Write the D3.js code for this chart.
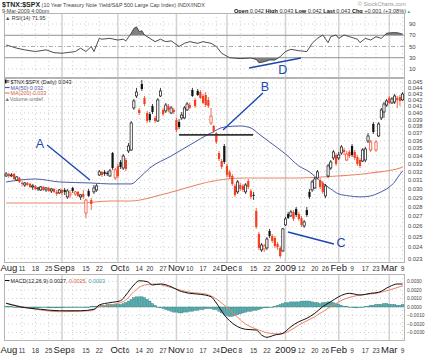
<!DOCTYPE html>
<html>
<head>
<meta charset="utf-8">
<script src="https://cdn.jsdelivr.net/npm/d3@7"></script>
<style>
    body { margin: 0; background: #fff; }
    svg text { font-family: "Liberation Sans", Arial, sans-serif; }
</style>
</head>
<body>
<div id="chart"></div>
<script>

/* * * * * * * * * * * * * *
*          data            *
* * * * * * * * * * * * * */

// x axis: trading-day index (0 = 1 Aug 2008, 149 = 9 Mar 2009)
const tickDays   = [0, 6, 11, 16, 21, 25, 30, 35, 42, 45, 50, 54, 59, 64, 69, 74, 79, 83, 88, 93, 98, 105, 111, 116, 120, 125, 130, 135, 139, 144, 149];
const tickLabels = ["Aug", "11", "18", "25", "Sep", "8", "15", "22", "Oct", "6", "14", "20", "27", "Nov", "10", "17", "24", "Dec", "8", "15", "22", "2009", "12", "20", "26", "Feb", "9", "17", "23", "Mar", "9"];
const monthDays  = [21, 42, 64, 83, 105, 125, 144];

// daily candles $TNX:$SPX
const open = [
    0.03148,0.03172,0.03148,0.03172,0.03100,0.03124,0.03065,0.03042,0.03065,0.03054,
    0.03019,0.03031,0.02996,0.02985,0.03019,0.02985,0.03008,0.02974,0.02996,0.02963,
    0.02951,0.02985,0.02985,0.02907,0.02929,0.03008,0.02940,0.02963,0.02907,0.02940,
    0.02735,0.02974,0.02873,0.02963,0.02985,0.03160,0.03197,0.03197,0.03184,0.03148,
    0.03435,0.03124,0.03270,0.03320,0.03245,0.03345,0.03462,0.03475,0.04077,0.04267,
    0.04046,0.04466,0.04235,0.04000,0.03984,0.04108,0.03925,0.03880,0.04267,0.04046,
    0.04031,0.04108,0.04000,0.04046,0.03895,0.03865,0.03925,0.03925,0.04046,0.04123,
    0.04365,0.04203,0.04349,0.04332,0.04267,0.04283,0.04203,0.03851,0.03807,0.03707,
    0.03435,0.03332,0.03528,0.03270,0.03197,0.03148,0.03031,0.02963,0.03042,0.03031,
    0.02963,0.03088,0.02974,0.02929,0.02756,0.02525,0.02376,0.02385,0.02394,0.02554,
    0.02506,0.02487,0.02430,0.02394,0.02367,0.02613,0.02724,0.02704,0.02745,0.02777,
    0.02724,0.02683,0.02603,0.02766,0.02963,0.02985,0.03008,0.03124,0.03100,0.03065,
    0.02918,0.03148,0.03245,0.03371,0.03409,0.03371,0.03435,0.03475,0.03345,0.03449,
    0.03528,0.03449,0.03383,0.03345,0.03332,0.03345,0.03595,0.03475,0.03836,0.03475,
    0.03665,0.03925,0.04015,0.04123,0.04235,0.04155,0.04171,0.04235,0.04251,0.04203
];
const high = [
    0.03197,0.03184,0.03184,0.03184,0.03148,0.03136,0.03088,0.03077,0.03077,0.03065,
    0.03054,0.03042,0.03019,0.03031,0.03031,0.03019,0.03019,0.03008,0.03008,0.02985,
    0.02996,0.02996,0.03008,0.02996,0.02985,0.03019,0.02974,0.02974,0.02940,0.02985,
    0.02884,0.02996,0.02895,0.03042,0.03054,0.03221,0.03209,0.03221,0.03209,0.03233,
    0.03449,0.03245,0.03295,0.03345,0.03422,0.03371,0.03568,0.03880,0.04219,0.04399,
    0.04077,0.04534,0.04267,0.04031,0.04015,0.04139,0.03954,0.04235,0.04399,0.04077,
    0.04155,0.04139,0.04108,0.04077,0.03925,0.03910,0.04015,0.04108,0.04171,0.04155,
    0.04399,0.04235,0.04382,0.04365,0.04299,0.04332,0.04251,0.04077,0.03821,0.03721,
    0.03462,0.03358,0.03555,0.03295,0.03221,0.03172,0.03054,0.03100,0.03065,0.03054,
    0.03065,0.03112,0.02996,0.02963,0.02787,0.02544,0.02440,0.02430,0.02496,0.02574,
    0.02525,0.02506,0.02449,0.02412,0.02584,0.02694,0.02745,0.02766,0.02766,0.02798,
    0.02745,0.02704,0.02663,0.02798,0.02996,0.03100,0.03136,0.03221,0.03124,0.03088,
    0.03054,0.03295,0.03345,0.03475,0.03435,0.03449,0.03541,0.03501,0.03462,0.03475,
    0.03555,0.03475,0.03409,0.03371,0.03501,0.03515,0.03707,0.03609,0.03865,0.03609,
    0.03865,0.04077,0.04171,0.04219,0.04267,0.04251,0.04299,0.04267,0.04283,0.04332
];
const low = [
    0.03136,0.03124,0.03136,0.03100,0.03088,0.03065,0.03031,0.03019,0.03031,0.03008,
    0.02985,0.02985,0.02974,0.02974,0.02974,0.02963,0.02963,0.02951,0.02951,0.02918,
    0.02940,0.02929,0.02929,0.02884,0.02895,0.02951,0.02918,0.02907,0.02873,0.02884,
    0.02683,0.02907,0.02766,0.02940,0.02963,0.03148,0.03136,0.03148,0.03148,0.03136,
    0.03221,0.03100,0.03124,0.03233,0.03221,0.03209,0.03435,0.03462,0.04046,0.04235,
    0.03969,0.04349,0.04108,0.03851,0.03865,0.03984,0.03851,0.03865,0.04251,0.03954,
    0.04000,0.04015,0.03984,0.03984,0.03721,0.03763,0.03895,0.03910,0.04031,0.04061,
    0.04251,0.04077,0.04267,0.04219,0.04139,0.04092,0.04077,0.03821,0.03707,0.03555,
    0.03332,0.03233,0.03295,0.03136,0.03112,0.03031,0.02907,0.02940,0.02974,0.02963,
    0.02940,0.02996,0.02884,0.02873,0.02574,0.02376,0.02358,0.02358,0.02376,0.02487,
    0.02440,0.02394,0.02376,0.02305,0.02358,0.02603,0.02673,0.02694,0.02653,0.02694,
    0.02653,0.02593,0.02584,0.02694,0.02884,0.02963,0.02996,0.03112,0.02996,0.02940,
    0.02895,0.03124,0.03221,0.03345,0.03270,0.03345,0.03409,0.03409,0.03332,0.03371,
    0.03383,0.03345,0.03270,0.03245,0.03320,0.03320,0.03568,0.03449,0.03693,0.03449,
    0.03651,0.03895,0.03925,0.04092,0.04139,0.04139,0.04139,0.04077,0.04108,0.04187
];
const close = [
    0.03172,0.03148,0.03160,0.03112,0.03136,0.03077,0.03054,0.03065,0.03042,0.03019,
    0.03031,0.02996,0.03008,0.03019,0.02985,0.03008,0.02974,0.02996,0.02963,0.02940,
    0.02985,0.02951,0.02963,0.02974,0.02951,0.02974,0.02963,0.02918,0.02929,0.02907,
    0.02873,0.02918,0.02830,0.03008,0.03031,0.03197,0.03160,0.03172,0.03172,0.03209,
    0.03245,0.03221,0.03148,0.03258,0.03396,0.03233,0.03528,0.03851,0.04187,0.04332,
    0.04000,0.04382,0.04139,0.03880,0.03895,0.04015,0.03880,0.04203,0.04349,0.03984,
    0.04123,0.04046,0.04077,0.04015,0.03749,0.03792,0.03969,0.04077,0.04139,0.04077,
    0.04267,0.04108,0.04283,0.04235,0.04155,0.04123,0.04108,0.03954,0.03735,0.03582,
    0.03358,0.03258,0.03320,0.03160,0.03136,0.03054,0.02929,0.03077,0.02996,0.02985,
    0.03042,0.03019,0.02907,0.02918,0.02593,0.02394,0.02421,0.02412,0.02477,0.02506,
    0.02459,0.02412,0.02403,0.02322,0.02574,0.02673,0.02683,0.02745,0.02673,0.02714,
    0.02673,0.02613,0.02643,0.02714,0.02907,0.03077,0.03112,0.03197,0.03019,0.02963,
    0.03031,0.03270,0.03320,0.03449,0.03295,0.03409,0.03515,0.03449,0.03422,0.03396,
    0.03409,0.03371,0.03295,0.03270,0.03475,0.03488,0.03665,0.03582,0.03721,0.03582,
    0.03836,0.04046,0.04139,0.04187,0.04155,0.04219,0.04267,0.04203,0.04187,0.04299
];

// moving averages, read at sample days
const ma50Days  = [0, 11, 20, 32, 39, 47, 50, 54, 62, 69, 77, 82, 88, 92, 95, 99, 105, 110, 114, 118, 122, 125, 129, 133, 137, 140, 144, 146, 147, 149];
const ma50Vals  = [0.03077, 0.03112, 0.03077, 0.03065, 0.03054, 0.03054, 0.03124, 0.03245, 0.03396, 0.03541, 0.03707, 0.03792, 0.03807, 0.03778, 0.03693, 0.03582, 0.03422, 0.03270, 0.03197, 0.03088, 0.02996, 0.02940, 0.02918, 0.02907, 0.02918, 0.02951, 0.03019, 0.03077, 0.03124, 0.03209];
const ma200Days = [0, 28, 39, 47, 58, 65, 73, 80, 88, 110, 125, 137, 148, 149];
const ma200Vals = [0.02841, 0.02841, 0.02862, 0.02862, 0.02929, 0.02985, 0.03054, 0.03100, 0.03124, 0.03124, 0.03148, 0.03184, 0.03245, 0.03258];

// RSI(14)
const rsiDays = [0, 2, 4, 7, 11, 15, 18, 21, 26, 28, 30, 32, 33, 35, 36, 39, 42, 44, 45, 47, 48, 49, 50, 51, 52, 54, 56, 58, 60, 62, 63, 65, 67, 69, 72, 74, 77, 79, 81, 84, 88, 92, 94, 95, 97, 99, 101, 103, 105, 107, 110, 113, 115, 117, 119, 121, 122, 124, 125, 127, 129, 132, 133, 135, 137, 139, 141, 143, 145, 147, 149];
const rsiVals = [52.7, 50, 47, 44, 41, 44, 39, 38, 41, 47, 41, 50, 41, 64.5, 63, 64.5, 61.5, 63, 60, 73.4, 82, 85, 76.4, 78, 70.5, 64.5, 58.6, 63, 58.6, 60, 56.8, 50, 55.7, 58.6, 55.7, 58.6, 55.7, 50, 38, 30, 28.5, 29.5, 27, 21, 23, 26, 26, 32, 41, 45, 42.5, 41, 55.7, 64.5, 70.5, 56.8, 67.5, 70.5, 64.5, 70.5, 67.5, 63, 56.8, 64.5, 61.5, 67.5, 64.5, 73.5, 74.6, 74.6, 71.95];

// MACD(12,26,9)
const macdDays   = [0, 5, 13, 20, 28, 33, 35, 39, 43, 45, 48, 50, 53, 55, 58, 62, 65, 69, 73, 77, 79, 82, 86, 90, 94, 96, 98, 101, 104, 107, 110, 113, 116, 119, 122, 125, 129, 133, 137, 140, 144, 147, 149];
const macdVals   = [0.00044, 0.00004, -0.00027, -0.00044, -0.00044, -0.00027, 0.00024, 0.00051, 0.00074, 0.00141, 0.00259, 0.00309, 0.00298, 0.00259, 0.00271, 0.00239, 0.00192, 0.00161, 0.00149, 0.00121, 0.00047, -0.00094, -0.00212, -0.00262, -0.00271, -0.00329, -0.00356, -0.00329, -0.00309, -0.00232, -0.00173, -0.00133, -0.00074, 0.00004, 0.00062, 0.00121, 0.00161, 0.00141, 0.00161, 0.00173, 0.00239, 0.00271, 0.00270];
const signalDays = [0, 9, 20, 32, 35, 41, 45, 48, 52, 56, 60, 63, 69, 75, 79, 84, 90, 95, 99, 103, 107, 110, 116, 122, 127, 133, 139, 144, 149];
const signalVals = [0.00044, -0.00015, -0.00055, -0.00044, 0.00004, 0.00035, 0.00082, 0.00180, 0.00259, 0.00271, 0.00247, 0.00220, 0.00173, 0.00153, 0.00095, -0.00035, -0.00200, -0.00271, -0.00309, -0.00318, -0.00271, -0.00212, -0.00114, 0.00004, 0.00091, 0.00141, 0.00161, 0.00200, 0.00250];
const histVals = [
    0.0001,0.0001,0.0001,0,0,0,-0.0001,-0.0001,-0.0001,-0.0001,
    -0.0001,-0.0001,-0.0001,0,0,0,-0.0001,-0.0001,-0.0001,-0.0001,
    -0.0001,-0.0001,0,0,0,0,0,0,0,0,
    0,0,0.0001,0.0001,0.0001,0.0002,0.0002,0.0002,0.0003,0.0003,
    0.0003,0.0003,0.0003,0.0003,0.0004,0.0005,0.0007,0.0009,0.0011,0.0012,
    0.0012,0.0012,0.0011,0.0009,0.0007,0.0004,0.0002,0,-0.0001,-0.0002,
    -0.0003,-0.0004,-0.0005,-0.0006,-0.0006,-0.0007,-0.0007,-0.0006,-0.0006,-0.0005,
    -0.0005,-0.0004,-0.0004,-0.0003,-0.0003,-0.0002,-0.0002,-0.0002,-0.0003,-0.0003,
    -0.0005,-0.0007,-0.0009,-0.0010,-0.0011,-0.0011,-0.0010,-0.0009,-0.0008,-0.0007,
    -0.0006,-0.0005,-0.0005,-0.0004,-0.0004,-0.0003,-0.0002,-0.0001,-0.0001,0,
    0,0.0001,0.0002,0.0003,0.0004,0.0005,0.0005,0.0006,0.0006,0.0006,
    0.0006,0.0007,0.0007,0.0007,0.0007,0.0006,0.0005,0.0005,0.0004,0.0005,
    0.0005,0.0006,0.0006,0.0005,0.0004,0.0003,0.0002,0.0001,0.0001,0,
    0,-0.0001,-0.0001,0,0,0.0001,0.0001,0.0002,0.0002,0.0003,
    0.0003,0.0003,0.0004,0.0004,0.0003,0.0003,0.0003,0.0002,0.0002,0.0003
];

// axis tick values
const priceTicks = [0.023, 0.024, 0.025, 0.026, 0.027, 0.028, 0.029, 0.030, 0.031, 0.032, 0.033, 0.034, 0.035, 0.036, 0.037, 0.038, 0.039, 0.040, 0.041, 0.042, 0.043, 0.044, 0.045];
const rsiTicks   = [90, 70, 50, 30, 10];
const macdTicks  = [0.003, 0.002, 0.001, 0, -0.001, -0.002, -0.003];


/* * * * * * * * * * * * * *
*        layout            *
* * * * * * * * * * * * * */

const width = 432, height = 355;
const plotLeft = 4, plotRight = 405;
const rsiBox   = {top: 13, bottom: 78};
const priceBox = {top: 78, bottom: 263};
const macdBox  = {top: 274, bottom: 341};

const red = "#f2401e", blue = "#4a5aa8", salmon = "#ec8466", teal = "#3f9f9f";
const annoBlue = "#1a48b0";

let svg = d3.select("#chart").append("svg")
    .attr("width", width)
    .attr("height", height);

// scales
let x = d3.scaleLinear().domain([-0.8, 149.9]).range([plotLeft, plotRight]);
let yPrice = d3.scaleLog().domain([0.023, 0.045]).range([258.5, 82]);
let yRsi = d3.scaleLinear().domain([0, 100]).range([74.6, 18.4]);
let yMacd = d3.scaleLinear().domain([-0.003, 0.003]).range([332.5, 281.5]);

let defs = svg.append("defs");
[["clipPrice", priceBox], ["clipRsi", rsiBox], ["clipMacd", macdBox]].forEach(([id, box]) => {
    defs.append("clipPath").attr("id", id)
        .append("rect")
        .attr("x", plotLeft).attr("y", box.top)
        .attr("width", plotRight - plotLeft).attr("height", box.bottom - box.top);
});
defs.append("clipPath").attr("id", "above70")
    .append("rect").attr("x", plotLeft).attr("y", rsiBox.top)
    .attr("width", plotRight - plotLeft).attr("height", yRsi(70) - rsiBox.top);
defs.append("clipPath").attr("id", "below30")
    .append("rect").attr("x", plotLeft).attr("y", yRsi(30))
    .attr("width", plotRight - plotLeft).attr("height", rsiBox.bottom - yRsi(30));

// grid for one panel: weekly dotted lines, monthly solid lines, horizontal dotted lines
function drawGrid(box, hTicks, yScale) {
    let g = svg.append("g");
    let weekDays = tickDays.filter((d, i) => !monthDays.includes(d) && d > 0);

    g.selectAll(".week").data(weekDays).join("line")
        .attr("x1", d => x(d)).attr("x2", d => x(d))
        .attr("y1", box.top).attr("y2", box.bottom)
        .attr("stroke", "#c4c4c4").attr("stroke-width", 0.8)
        .attr("stroke-dasharray", "1,3");

    g.selectAll(".hgrid").data(hTicks).join("line")
        .attr("x1", plotLeft).attr("x2", plotRight)
        .attr("y1", d => yScale(d)).attr("y2", d => yScale(d))
        .attr("stroke", "#c4c4c4").attr("stroke-width", 0.8)
        .attr("stroke-dasharray", "1,3");

    g.selectAll(".month").data(monthDays).join("line")
        .attr("x1", d => x(d)).attr("x2", d => x(d))
        .attr("y1", box.top).attr("y2", box.bottom)
        .attr("stroke", "#d2d2d2").attr("stroke-width", 1.5);

    g.append("rect")
        .attr("x", plotLeft + 0.5).attr("y", box.top + 0.5)
        .attr("width", plotRight - plotLeft - 1).attr("height", box.bottom - box.top - 1)
        .attr("fill", "none").attr("stroke", "#b4b4b4");
    return g;
}

// x labels with small push to the right when two labels collide
function drawXLabels(yBase) {
    let lastRight = -Infinity;
    tickDays.forEach((d, i) => {
        let isMonth = monthDays.includes(d) || i === 0;
        let t = svg.append("text")
            .attr("y", yBase)
            .attr("font-size", isMonth ? 9.5 : 6.5)
            .attr("fill", isMonth ? "#222" : "#333")
            .text(tickLabels[i]);
        let w = t.node().getComputedTextLength();
        let left = x(d) - w / 2;
        if (left < lastRight + 0.5) left = lastRight + 0.5;
        if (left < 0.5) left = 0.5;
        t.attr("x", left);
        lastRight = left + w;
    });
}


/* * * * * * * * * * * * * *
*        header            *
* * * * * * * * * * * * * */

let title = svg.append("text").attr("x", 2).attr("y", 7).attr("fill", "#222");
title.append("tspan").attr("font-size", 7).attr("font-weight", "bold").text("$TNX:$SPX");
title.append("tspan").attr("font-size", 5.4).attr("fill", "#444")
    .text(" (10 Year Treasury Note Yield/S&P 500 Large Cap Index) INDX/INDX");

svg.append("text").attr("x", 2).attr("y", 12.5)
    .attr("font-size", 5.4).attr("fill", "#444")
    .text("9-Mar-2009 4:00pm");

svg.append("text").attr("x", 406).attr("y", 6)
    .attr("text-anchor", "end").attr("font-size", 5.6).attr("fill", "#999")
    .text("\u00a9 StockCharts.com");

let quote = svg.append("text").attr("x", 406).attr("y", 12.5)
    .attr("text-anchor", "end").attr("font-size", 5.6).attr("fill", "#333");
[["Open", " 0.042  "], ["High", " 0.043  "], ["Low", " 0.042  "], ["Last", " 0.043  "], ["Chg", " +0.001 (+3.08%) "]].forEach(([k, v]) => {
    quote.append("tspan").attr("font-weight", "bold").attr("fill", "#111").text(k);
    quote.append("tspan").text(v);
});
svg.append("text").attr("x", 406.5).attr("y", 12.5)
    .attr("font-size", 4.5).attr("fill", teal).text("\u25b2");


/* * * * * * * * * * * * * *
*        RSI panel         *
* * * * * * * * * * * * * */

drawGrid(rsiBox, [90, 10], yRsi);

[70, 30].forEach(v => {
    svg.append("line")
        .attr("x1", plotLeft).attr("x2", plotRight)
        .attr("y1", yRsi(v)).attr("y2", yRsi(v))
        .attr("stroke", "#9a9a9a").attr("stroke-width", 1);
});
svg.append("line")
    .attr("x1", plotLeft).attr("x2", plotRight)
    .attr("y1", yRsi(50)).attr("y2", yRsi(50))
    .attr("stroke", "#9a9a9a").attr("stroke-width", 0.8)
    .attr("stroke-dasharray", "4,2,1,2");

let rsiData = rsiDays.map((d, i) => ({day: d, v: rsiVals[i]}));

svg.append("path").datum(rsiData)
    .attr("clip-path", "url(#above70)")
    .attr("fill", "#808080")
    .attr("d", d3.area().x(d => x(d.day)).y0(yRsi(70)).y1(d => yRsi(d.v)));
svg.append("path").datum(rsiData)
    .attr("clip-path", "url(#below30)")
    .attr("fill", "#808080")
    .attr("d", d3.area().x(d => x(d.day)).y0(yRsi(30)).y1(d => yRsi(d.v)));
svg.append("path").datum(rsiData)
    .attr("fill", "none").attr("stroke", "#3a3a3a").attr("stroke-width", 0.9)
    .attr("d", d3.line().x(d => x(d.day)).y(d => yRsi(d.v)));

svg.selectAll(".rsiTick").data(rsiTicks).join("text")
    .attr("x", 409).attr("y", d => yRsi(d) + 2)
    .attr("font-size", 6).attr("fill", "#444")
    .text(d => d);

let rsiLabel = svg.append("text").attr("x", 5).attr("y", 19.5).attr("font-size", 5.4).attr("fill", "#333");
rsiLabel.append("tspan").attr("fill", "#555").text("\u25b2 ");
rsiLabel.append("tspan").text("RSI(14) 71.95");


/* * * * * * * * * * * * * *
*        price panel       *
* * * * * * * * * * * * * */

drawGrid(priceBox, priceTicks, yPrice);

let pricePlot = svg.append("g").attr("clip-path", "url(#clipPrice)");

let maLine = d3.line().x(d => x(d.day)).y(d => yPrice(d.v)).curve(d3.curveMonotoneX);
pricePlot.append("path")
    .datum(ma200Days.map((d, i) => ({day: d, v: ma200Vals[i]})))
    .attr("fill", "none").attr("stroke", salmon).attr("stroke-width", 1.1)
    .attr("d", maLine);
pricePlot.append("path")
    .datum(ma50Days.map((d, i) => ({day: d, v: ma50Vals[i]})))
    .attr("fill", "none").attr("stroke", blue).attr("stroke-width", 1)
    .attr("d", maLine);

// candles: red when close is below the prior close, hollow when close is above the open
let candles = close.map((c, i) => ({
    day: i, o: open[i], h: high[i], l: low[i], c: c,
    prev: i > 0 ? close[i - 1] : open[i]
}));
let bodyW = 2.2;

let cg = pricePlot.selectAll(".candle").data(candles).join("g").attr("class", "candle");
cg.append("line")
    .attr("x1", d => x(d.day)).attr("x2", d => x(d.day))
    .attr("y1", d => yPrice(d.h)).attr("y2", d => yPrice(d.l))
    .attr("stroke", d => d.c < d.prev ? red : "#111")
    .attr("stroke-width", 0.8);
cg.append("rect")
    .attr("x", d => x(d.day) - bodyW / 2)
    .attr("y", d => yPrice(Math.max(d.o, d.c)))
    .attr("width", bodyW)
    .attr("height", d => Math.max(0.8, Math.abs(yPrice(d.o) - yPrice(d.c))))
    .attr("fill", d => d.c >= d.o ? "#fff" : (d.c < d.prev ? red : "#111"))
    .attr("stroke", d => d.c < d.prev ? red : "#111")
    .attr("stroke-width", d => d.c >= d.o ? 0.7 : 0);

svg.selectAll(".priceTick").data(priceTicks).join("text")
    .attr("x", 408).attr("y", d => yPrice(d) + 2)
    .attr("font-size", 5.8).attr("fill", "#444")
    .text(d => d3.format(".3f")(d));

// legend
let legend = svg.append("g").attr("font-size", 5.4);
legend.append("rect").attr("x", 5).attr("y", 79.8).attr("width", 1.6).attr("height", 3.2).attr("fill", "#111");
legend.append("line").attr("x1", 5.8).attr("x2", 5.8).attr("y1", 79).attr("y2", 84).attr("stroke", "#111").attr("stroke-width", 0.6);
legend.append("rect").attr("x", 7.4).attr("y", 80.6).attr("width", 1.6).attr("height", 2).attr("fill", "none").attr("stroke", "#111").attr("stroke-width", 0.4);
legend.append("text").attr("x", 10.5).attr("y", 84).attr("fill", "#222").text("$TNX:$SPX (Daily) 0.043");
legend.append("line").attr("x1", 5).attr("x2", 9.5).attr("y1", 87.5).attr("y2", 87.5).attr("stroke", blue).attr("stroke-width", 1.2);
legend.append("text").attr("x", 10.5).attr("y", 89.5).attr("fill", blue).text("MA(50) 0.032");
legend.append("line").attr("x1", 5).attr("x2", 9.5).attr("y1", 93).attr("y2", 93).attr("stroke", salmon).attr("stroke-width", 1.2);
legend.append("text").attr("x", 10.5).attr("y", 95).attr("fill", "#e0603e").text("MA(200) 0.033");
legend.append("text").attr("x", 4.5).attr("y", 100.5).attr("fill", "#777").text("\u25b2Volume undef");

// hand drawn notes
let note = svg.append("g");
note.append("line")
    .attr("x1", x(65)).attr("x2", x(92.8))
    .attr("y1", yPrice(0.03679)).attr("y2", yPrice(0.03679))
    .attr("stroke", "#333").attr("stroke-width", 1.8);
[[15.4, 0.03541, 31.5, 0.03100], [96.5, 0.04316, 81.5, 0.03749], [105.9, 0.02544, 123.2, 0.02430]].forEach(([d1, v1, d2, v2]) => {
    note.append("line")
        .attr("x1", x(d1)).attr("y1", yPrice(v1))
        .attr("x2", x(d2)).attr("y2", yPrice(v2))
        .attr("stroke", annoBlue).attr("stroke-width", 1.4);
});
note.append("line")
    .attr("x1", x(91.3)).attr("y1", yRsi(11.8))
    .attr("x2", x(110.8)).attr("y2", yRsi(29.6))
    .attr("stroke", annoBlue).attr("stroke-width", 1.4);
[["A", 12.7, yPrice(0.03568)], ["B", 97.3, yPrice(0.04432)], ["C", 125.9, yPrice(0.02440)], ["D", 104, yRsi(8.2)]].forEach(([t, d, yy]) => {
    note.append("text")
        .attr("x", x(d)).attr("y", yy + 4.5)
        .attr("text-anchor", "middle")
        .attr("font-size", 12.5).attr("fill", annoBlue)
        .text(t);
});

drawXLabels(270.5);


/* * * * * * * * * * * * * *
*        MACD panel        *
* * * * * * * * * * * * * */

drawGrid(macdBox, macdTicks, yMacd);

let macdPlot = svg.append("g").attr("clip-path", "url(#clipMacd)");

macdPlot.selectAll(".hist").data(histVals).join("rect")
    .attr("x", (d, i) => x(i) - 1.2)
    .attr("y", d => yMacd(Math.max(0, d)))
    .attr("width", 2.4)
    .attr("height", d => Math.max(0.6, Math.abs(yMacd(d) - yMacd(0))))
    .attr("fill", "#5aaeae")
    .attr("stroke", "#2f7f80").attr("stroke-width", 0.4);

let macdLine = d3.line().x(d => x(d.day)).y(d => yMacd(d.v)).curve(d3.curveMonotoneX);
macdPlot.append("path")
    .datum(signalDays.map((d, i) => ({day: d, v: signalVals[i]})))
    .attr("fill", "none").attr("stroke", salmon).attr("stroke-width", 1)
    .attr("d", macdLine);
macdPlot.append("path")
    .datum(macdDays.map((d, i) => ({day: d, v: macdVals[i]})))
    .attr("fill", "none").attr("stroke", "#111").attr("stroke-width", 1)
    .attr("d", macdLine);

svg.selectAll(".macdTick").data(macdTicks).join("text")
    .attr("x", 407).attr("y", d => yMacd(d) + 1.7)
    .attr("font-size", 4.8).attr("fill", "#444")
    .text(d => d3.format(".4f")(d));

svg.append("line").attr("x1", 5).attr("x2", 9.5).attr("y1", 280.5).attr("y2", 280.5)
    .attr("stroke", "#111").attr("stroke-width", 1);
let macdLabel = svg.append("text").attr("x", 10.5).attr("y", 282.5).attr("font-size", 5.4);
macdLabel.append("tspan").attr("fill", "#222").text("MACD(12,26,9) 0.0027, ");
macdLabel.append("tspan").attr("fill", "#e0603e").text("0.0025, ");
macdLabel.append("tspan").attr("fill", teal).text("0.0003");

drawXLabels(353);

</script>
</body>
</html>
